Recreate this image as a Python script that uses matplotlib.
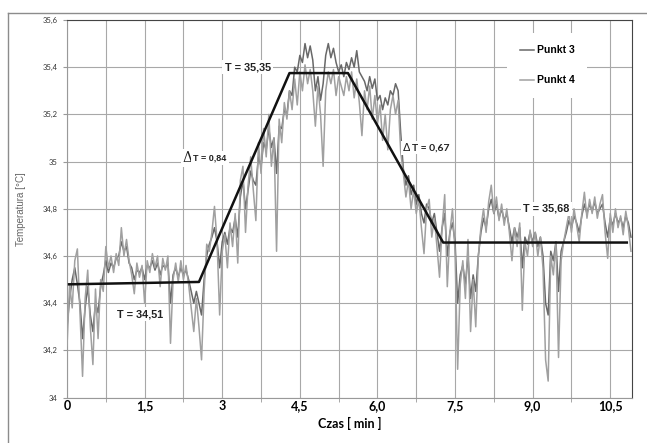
import numpy as np
import matplotlib
matplotlib.use("Agg")
import matplotlib.pyplot as plt
from matplotlib.lines import Line2D

OUT_FIG = "out.png"

# sampling step of the read-off series [min]
DT = 0.05

punkt_3 = [
    34.30, 34.42, 34.50, 34.55, 34.48, 34.40, 34.25, 34.38, 34.47, 34.35,
    34.28, 34.40, 34.36, 34.47, 34.52, 34.58, 34.53, 34.57, 34.55, 34.59,
    34.60, 34.66, 34.62, 34.64, 34.57, 34.55, 34.50, 34.54, 34.53, 34.55,
    34.50, 34.56, 34.55, 34.58, 34.54, 34.57, 34.52, 34.56, 34.55, 34.57,
    34.40, 34.52, 34.55, 34.51, 34.55, 34.52, 34.54, 34.50, 34.45, 34.40,
    34.45, 34.40, 34.35, 34.50, 34.60, 34.65, 34.68, 34.72, 34.66, 34.55,
    34.66, 34.70, 34.65, 34.72, 34.70, 34.76, 34.68, 34.85, 34.92, 34.80,
    34.88, 34.96, 34.92, 34.90, 35.02, 34.98, 35.08, 35.05, 35.14, 35.06,
    35.10, 34.95, 35.15, 35.14, 35.22, 35.20, 35.30, 35.28, 35.40, 35.38,
    35.45, 35.42, 35.50, 35.44, 35.49, 35.43, 35.30, 35.36, 35.26, 35.33,
    35.45, 35.50, 35.44, 35.48, 35.42, 35.38, 35.41, 35.36, 35.42, 35.39,
    35.44, 35.40, 35.47, 35.38, 35.36, 35.34, 35.30, 35.36, 35.31, 35.35,
    35.26, 35.28, 35.22, 35.27, 35.24, 35.30, 35.28, 35.33, 35.30, 35.12,
    34.97, 34.90, 34.94, 34.86, 34.90, 34.82, 34.86, 34.78, 34.74, 34.82,
    34.80, 34.74, 34.78, 34.70, 34.62, 34.72, 34.78, 34.60, 34.70, 34.74,
    34.66, 34.40, 34.52, 34.56, 34.48, 34.60, 34.42, 34.52, 34.45, 34.60,
    34.70, 34.76, 34.72, 34.80, 34.84, 34.78, 34.82, 34.76, 34.80, 34.75,
    34.78, 34.72, 34.66, 34.72, 34.68, 34.72, 34.55, 34.68, 34.65, 34.70,
    34.66, 34.70, 34.64, 34.68, 34.60, 34.40, 34.35, 34.62, 34.58, 34.66,
    34.45, 34.62, 34.66, 34.70, 34.75, 34.72, 34.77, 34.74, 34.70, 34.77,
    34.82, 34.78, 34.82, 34.79, 34.83, 34.78, 34.80, 34.82, 34.74, 34.68,
    34.76, 34.73, 34.78, 34.74, 34.76, 34.72, 34.77, 34.74, 34.68,
]

punkt_4 = [
    34.22, 34.48, 34.38, 34.58, 34.63, 34.36, 34.09, 34.42, 34.54, 34.30,
    34.14, 34.46, 34.25, 34.50, 34.45, 34.64, 34.55, 34.60, 34.53, 34.61,
    34.56, 34.72, 34.60, 34.67, 34.58, 34.52, 34.44, 34.57, 34.51, 34.56,
    34.40, 34.58, 34.53, 34.61, 34.55, 34.60, 34.47, 34.59, 34.54, 34.60,
    34.23, 34.50, 34.57, 34.49, 34.58, 34.50, 34.56, 34.48, 34.38, 34.28,
    34.42, 34.30, 34.16, 34.45, 34.65, 34.62, 34.70, 34.81, 34.66, 34.35,
    34.62, 34.69, 34.55, 34.74, 34.64, 34.78, 34.57, 34.92, 34.98, 34.70,
    34.90, 35.02, 34.88, 34.75, 35.08, 34.95, 35.14, 35.02, 35.20, 34.98,
    35.10, 34.62, 35.18, 35.08, 35.25, 35.18, 35.30, 35.22, 35.35, 35.24,
    35.38, 35.30, 35.41, 35.33, 35.39, 35.30, 35.15, 35.32, 35.20, 34.98,
    35.30, 35.38, 35.33, 35.39, 35.28, 35.36, 35.32, 35.28, 35.36, 35.30,
    35.38, 35.27, 35.35, 35.25, 35.11, 35.30, 35.22, 35.32, 35.18, 35.28,
    35.16, 35.24, 35.09, 35.20, 35.05, 35.22, 35.28, 35.20, 35.26, 35.04,
    34.95, 34.85, 34.92, 34.80, 34.88, 34.78, 34.84, 34.72, 34.61, 34.80,
    34.84, 34.68, 34.76, 34.64, 34.51, 34.72, 34.86, 34.47, 34.70, 34.80,
    34.62, 34.12, 34.48, 34.58, 34.42, 34.67, 34.28, 34.50, 34.30, 34.60,
    34.72, 34.80, 34.70, 34.83, 34.90, 34.78, 34.85, 34.75, 34.82, 34.73,
    34.80, 34.70, 34.58, 34.72, 34.64, 34.74, 34.37, 34.66, 34.60, 34.71,
    34.64, 34.70, 34.60, 34.68, 34.55, 34.16, 34.07, 34.60, 34.52, 34.66,
    34.17, 34.58, 34.66, 34.72, 34.78, 34.70, 34.80, 34.73, 34.66, 34.78,
    34.87, 34.76, 34.84, 34.78, 34.85, 34.76, 34.82, 34.86, 34.70, 34.59,
    34.78, 34.70, 34.80, 34.72, 34.77, 34.69, 34.79, 34.72, 34.62,
]

# piecewise fit (black line)
fit_t = [0.04, 2.55, 4.30, 5.43, 7.27, 10.82]
fit_T = [34.48, 34.49, 35.375, 35.375, 34.657, 34.657]

x_ticks = [0, 1.5, 3, 4.5, 6.0, 7.5, 9.0, 10.5]
x_labels = ["0", "1,5", "3", "4,5", "6,0", "7,5", "9,0", "10,5"]
y_ticks = [34.0, 34.2, 34.4, 34.6, 34.8, 35.0, 35.2, 35.4, 35.6]
y_labels = ["34", "34,2", "34,4", "34,6", "34,8", "35", "35,2", "35,4", "35,6"]

czas = np.arange(len(punkt_4)) * DT

fig = plt.figure(figsize=(6.47, 4.43), dpi=100)
ax = fig.add_axes([0.1036, 0.1025, 0.8732, 0.8524])

# outer chart frame
fig.add_artist(Line2D([8 / 647, 8 / 647], [0, 1 - 13 / 443], color="#8c8c8c", lw=1))
fig.add_artist(Line2D([8 / 647, 1], [1 - 13 / 443, 1 - 13 / 443], color="#8c8c8c", lw=1))

ax.plot(czas, punkt_3, color="#686868", lw=1.1, label="Punkt 3", zorder=2)
ax.plot(czas, punkt_4, color="#a0a0a0", lw=1.1, label="Punkt 4", zorder=3)
ax.plot(fit_t, fit_T, color="#111111", lw=1.8, zorder=5)

ax.set_xlim(0, 10.92)
ax.set_ylim(34, 35.6)
ax.set_xticks(x_ticks)
ax.set_xticklabels(x_labels, fontfamily="Lato", fontweight="bold", fontsize=9)
ax.set_xticks(np.arange(0.75, 10.9, 1.5), minor=True)
ax.set_yticks(y_ticks)
ax.set_yticklabels(y_labels, fontfamily="Lato", fontsize=5.5, color="#333333")
ax.tick_params(axis="x", which="major", length=0, pad=2)
ax.tick_params(axis="x", which="minor", length=3, color="#999999")
ax.tick_params(axis="y", length=3, color="#999999", pad=4)

ax.grid(True, which="both", color="#a8a8a8", lw=0.8)
ax.set_axisbelow(True)
for side in ["left", "bottom"]:
    ax.spines[side].set_color("#999999")
for side in ["top", "right"]:
    ax.spines[side].set_color("#444444")

ax.set_xlabel("Czas [ min ]", fontfamily="Lato", fontweight="bold", fontsize=9, labelpad=3)
ax.set_ylabel("Temperatura [°C]", fontfamily="Liberation Sans", fontsize=7, color="#666666", labelpad=12)

leg = ax.legend(
    loc="center",
    bbox_to_anchor=(0.85, 0.88),
    prop={"family": "Liberation Sans", "weight": "bold", "size": 7.5},
    handlelength=1.4,
    handletextpad=0.3,
    labelspacing=1.9,
    borderpad=1.2,
    frameon=True,
    facecolor="white",
    edgecolor="none",
    framealpha=1,
    fancybox=False,
)
leg.set_zorder(6)

box = dict(facecolor="white", edgecolor="none", pad=1.5)
lbl = dict(fontfamily="Liberation Sans", fontweight="bold", fontsize=7.8, color="#222222", zorder=7)

ax.text(3.49, 35.40, "T = 35,35", ha="center", va="center", bbox=box, **lbl)
ax.text(1.41, 34.354, "T = 34,51", ha="center", va="center", bbox=box, **lbl)
ax.text(9.27, 34.80, "T = 35,68", ha="center", va="center", bbox=box, **lbl)

ax.text(2.24, 35.015, "Δ", ha="left", va="center", fontfamily="DejaVu Serif",
        fontsize=10, color="#222222", bbox=box, zorder=7)
ax.text(2.44, 35.015, "T = 0,84", ha="left", va="center", bbox=box,
        fontfamily="Liberation Sans", fontweight="bold", fontsize=6.5, color="#222222", zorder=7)
ax.text(6.50, 35.058, "Δ", ha="left", va="center", fontfamily="DejaVu Sans",
        fontsize=8, color="#222222", bbox=box, zorder=7)
ax.text(6.66, 35.058, "T = 0,67", ha="left", va="center", bbox=box,
        fontfamily="Lato", fontweight="bold", fontsize=7.5, color="#222222", zorder=7)

fig.savefig(OUT_FIG, dpi=100)
